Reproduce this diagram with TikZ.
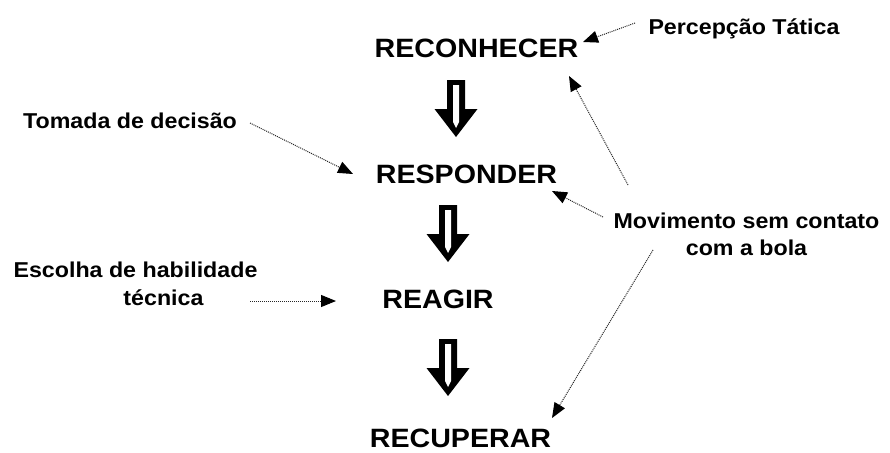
\documentclass[tikz,border=0pt]{standalone}
\usepackage{fontspec}
\setmainfont{Liberation Sans}[FakeStretch=1.08]
\usetikzlibrary{arrows.meta}
\tikzset{
  big/.style={font=\bfseries\fontsize{26.5}{30}\selectfont, inner sep=0pt, anchor=base},
  small/.style={font=\bfseries\fontsize{21.5}{27}\selectfont, inner sep=0pt, anchor=base},
  dotarrow/.style={densely dotted, line width=1pt, black!85, -{Triangle[length=15pt,width=12pt,black]}},
  pics/hollowarrow/.style={code={
    \fill[black] (-9,0) -- (9,0) -- (9,29) -- (21.5,29) -- (0,57) -- (-21.5,29) -- (-9,29) -- cycle;
    \fill[white] (-3,5) -- (3,5) -- (3,42) -- (0,48) -- (-3,42) -- cycle;
  }}
}
\begin{document}
\begin{tikzpicture}[x=1pt,y=-1pt]
\useasboundingbox[fill=white] (0,0) rectangle (890,452);
% main labels
\node[big] (rec) at (476.5,57) {RECONHECER};
\node[big] (resp) at (466.5,183) {RESPONDER};
\node[big] (reag) at (438,308) {REAGIR};
\node[big] (recu) at (460.5,447.5) {RECUPERAR};
% hollow arrows
\pic at (456,80) {hollowarrow};
\pic at (448,205) {hollowarrow};
\pic at (448,339) {hollowarrow};
% side labels
\node[small] (perc) at (744,35) {Percepção Tática};
\node[small] (toma) at (130,128) {Tomada de decisão};
\node[small] (esc1) at (135.5,277) {Escolha de habilidade};
\node[small] (esc2) at (163.5,305) {técnica};
\node[small, align=center] (mov) at (746.5,255) {Movimento sem contato\\com a bola};
% arrow end points
\coordinate (p1) at (635,23);  \coordinate (p2) at (583,42);
\coordinate (t1) at (250,123); \coordinate (t2) at (353,174);
\coordinate (e1) at (250,301); \coordinate (e2) at (336,301);
\coordinate (m1) at (628,185); \coordinate (m2) at (569,76);
\coordinate (n1) at (603,217); \coordinate (n2) at (552,191);
\coordinate (o1) at (653,250); \coordinate (o2) at (552,418);
\draw[dotarrow] (p1) -- (p2);
\draw[dotarrow] (t1) -- (t2);
\draw[dotarrow] (e1) -- (e2);
\draw[dotarrow] (m1) -- (m2);
\draw[dotarrow] (n1) -- (n2);
\draw[dotarrow] (o1) -- (o2);
\end{tikzpicture}
\end{document}
